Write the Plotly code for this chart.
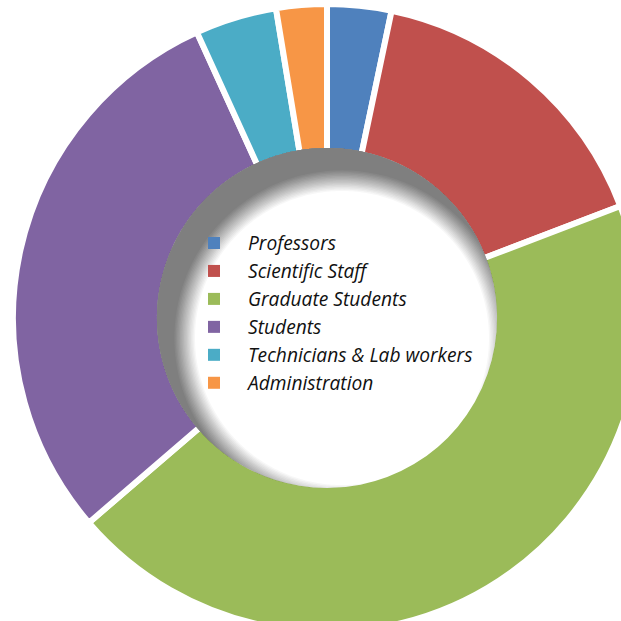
import numpy as np
import plotly.graph_objects as go

# Staff composition (share of total, %)
groups = ["Professors", "Scientific Staff", "Graduate Students", "Students",
          "Technicians & Lab workers", "Administration"]
shares = [3.3, 15.9, 44.5, 29.5, 4.2, 2.6]
colors = ["#4F81BD", "#C0504D", "#9BBB59", "#8064A2", "#4BACC6", "#F79646"]

W = H = 660
CX, CY = 327, 318          # ring centre in pixels (from top-left)
R = 314                    # outer radius incl. half border
HOLE = 0.532
GAP = 6

domain = dict(x=[(CX - R) / W, (CX + R) / W],
              y=[(H - CY - R) / H, (H - CY + R) / H])
common = dict(labels=groups, values=shares, sort=False, direction="clockwise",
              rotation=0, hole=HOLE, textinfo="none", domain=domain)

fig = go.Figure()
# base ring without borders: supplies the plain square legend keys
fig.add_trace(go.Pie(**common, hoverinfo="skip", showlegend=True,
                     marker=dict(colors=colors, line=dict(width=0))))
# same ring on top with white separators between the slices
fig.add_trace(go.Pie(**common, hoverinfo="label+percent", showlegend=False,
                     marker=dict(colors=colors, line=dict(color="white", width=GAP))))


def to_paper(px, py):
    return px / W, (H - py) / H


def crescent(r_hole, sx, sy, rho, n=360):
    """Part of the hole disc lying farther than rho from (sx, sy)."""
    th = np.linspace(0, 2 * np.pi, n, endpoint=False)
    ux, uy = np.cos(th), np.sin(th)
    dx, dy = sx - CX, sy - CY
    b = ux * dx + uy * dy
    c = dx * dx + dy * dy - r_hole * r_hole
    d_out = -b + np.sqrt(b * b - c)
    d_in = np.minimum(rho, d_out)
    outer = [to_paper(sx + t * a, sy + t * e) for t, a, e in zip(d_out, ux, uy)]
    inner = [to_paper(sx + t * a, sy + t * e) for t, a, e in zip(d_in, ux, uy)][::-1]
    pts = outer + [outer[0]] + [inner[-1]] + inner
    return "M" + "L".join(f"{x:.5f},{y:.5f}" for x, y in pts) + "Z"


# soft inner shadow inside the hole (light from the upper left)
r_vis = HOLE * R + GAP / 2
sx, sy, rs, blur = CX + 15, CY + 20, 158, 11
n = 16
shapes = []
for k in range(n):
    rho = rs - blur + k * (2 * blur / n)
    shapes.append(dict(type="path", xref="paper", yref="paper", layer="above",
                       path=crescent(r_vis, sx, sy, rho), fillcolor="#7f7f7f",
                       opacity=1.0 / (n - k), line=dict(width=0)))

fig.update_layout(
    width=W, height=H, margin=dict(l=0, r=0, t=0, b=0),
    paper_bgcolor="white", plot_bgcolor="white",
    shapes=shapes,
    legend=dict(x=180 / W, y=(H - 224) / H, xanchor="left", yanchor="top",
                bgcolor="rgba(0,0,0,0)", itemwidth=58,
                font=dict(family="Open Sans", size=19.2, color="#111111", style="italic")),
)

fig.write_html("out.html", post_script=(
    "document.body.style.margin='0';"
    "document.body.style.overflow='hidden';"
    "document.documentElement.style.overflow='hidden';"))
